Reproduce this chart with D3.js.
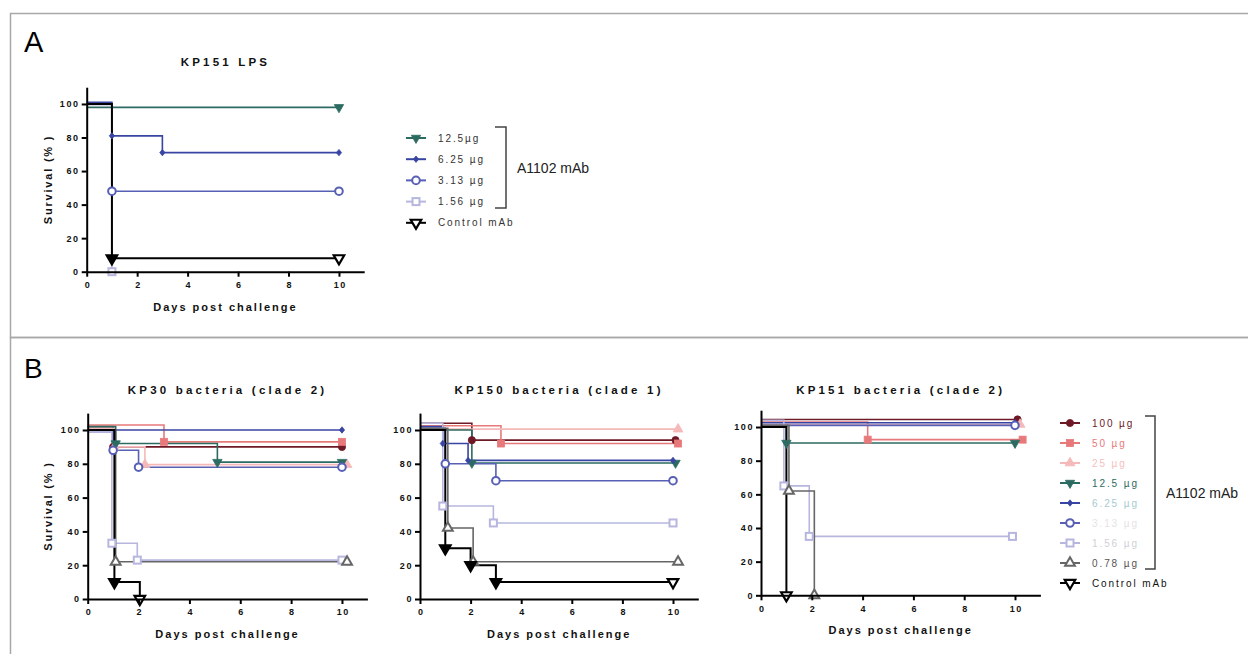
<!DOCTYPE html>
<html><head><meta charset="utf-8">
<script src="https://cdn.jsdelivr.net/npm/d3@7"></script>
<style>
html,body{margin:0;padding:0;background:#fff;}
svg{display:block;font-family:"Liberation Sans",Arial,sans-serif;}
</style></head>
<body><svg id="c" width="1248" height="654"></svg>
<script>
// ---------- DATA ----------
const xTicks = [0, 2, 4, 6, 8, 10];
const yTicks = [0, 20, 40, 60, 80, 100];
const titles = ["KP151 LPS", "KP30 bacteria (clade 2)", "KP150 bacteria (clade 1)", "KP151 bacteria (clade 2)"];
const legendA = ["12.5\u00b5g", "6.25 \u00b5g", "3.13 \u00b5g", "1.56 \u00b5g", "Control mAb"];
const legendB = ["100 \u00b5g", "50 \u00b5g", "25 \u00b5g", "12.5 \u00b5g", "6.25 \u00b5g", "3.13 \u00b5g", "1.56 \u00b5g", "0.78 \u00b5g", "Control mAb"];
const keysA = ["d125", "d625", "d313", "d156", "ctrl"];
const keysB = ["d100", "d50", "d25", "d125", "d625", "d313", "d156", "d078", "ctrl"];

// Panel A : KP151 LPS  [day, survival %]
const A_d125 = [[0, 98], [10, 98]];
const A_d625 = [[0, 101], [1, 81], [3, 71], [10, 71]];
const A_d313 = [[0, 100], [1, 48], [10, 48]];
const A_d156 = [[0, 99.5], [1, 0]];
const A_ctrl = [[0, 100], [1, 8], [10, 8]];

// Panel B1 : KP30 bacteria
const B1_d100 = [[0, 102], [1, 90], [10, 90]];
const B1_d50 = [[0, 103], [3, 93], [10, 93]];
const B1_d25 = [[0, 101], [1.05, 90], [2.25, 79.5], [10.2, 79.5]];
const B1_d125 = [[0, 102], [1.1, 92], [5.1, 81], [10, 81]];
const B1_d625 = [[0, 100], [10, 100]];
const B1_d313 = [[0, 99], [1, 88], [2, 78], [10, 78]];
const B1_d156 = [[0, 99], [0.95, 33], [1.95, 23], [10, 23]];
const B1_d078 = [[0, 100], [1.1, 22], [10.2, 22]];
const B1_ctrl = [[0, 100], [1.05, 10], [2.05, 0]];

// Panel B2 : KP150 bacteria
const B2_d100 = [[0, 104], [2.05, 94], [10.1, 94]];
const B2_d50 = [[0, 102.5], [3.2, 92], [10.2, 92]];
const B2_d25 = [[0, 100.5], [10.2, 100.5]];
const B2_d125 = [[0, 100], [2.05, 80.5], [10.1, 80.5]];
const B2_d625 = [[0, 102], [0.9, 92], [1.9, 82], [10, 82]];
const B2_d313 = [[0, 101], [1, 80], [3, 70], [10, 70]];
const B2_d156 = [[0, 104], [0.9, 55], [2.9, 45], [10, 45]];
const B2_d078 = [[0, 101], [1.1, 42], [2.1, 22], [10.2, 22]];
const B2_ctrl = [[0, 100], [1, 30], [2, 20], [3, 10], [10, 10]];

// Panel B3 : KP151 bacteria
const B3_d100 = [[0, 104.5], [10.1, 104.5]];
const B3_d50 = [[0, 103], [4.2, 92.5], [10.3, 92.5]];
const B3_d25 = [[0, 101.5], [10.2, 101.5]];
const B3_d125 = [[0, 100.5], [1, 90.5], [10, 90.5]];
const B3_d625 = [[0, 102.5], [10, 102.5]];
const B3_d313 = [[0, 101], [10, 101]];
const B3_d156 = [[0, 104], [0.9, 65], [1.9, 35], [9.9, 35]];
const B3_d078 = [[0, 101], [1.1, 62], [2.1, 0]];
const B3_ctrl = [[0, 100], [1, 0]];

// ---------- STYLES ----------
const st = {
  d100: {c: "#6e1a26", sym: "circle", fill: true},
  d50:  {c: "#e8797b", sym: "square", fill: true},
  d25:  {c: "#f5b9b9", sym: "tri", fill: true},
  d125: {c: "#2c6b61", sym: "itri", fill: true},
  d625: {c: "#3845a3", sym: "diamond", fill: true},
  d313: {c: "#5760b5", sym: "circle", fill: false},
  d156: {c: "#b7b6df", sym: "square", fill: false},
  d078: {c: "#666666", sym: "tri", fill: false},
  ctrl: {c: "#000000", sym: "ctrl", fill: false}
};
const legBColors = ["#6e1a26", "#e8797b", "#f5c0c0", "#2c6b61", "#a6cbd0", "#e4e4e4", "#d0d0d8", "#555555", "#111111"];

const svg = d3.select("#c");

// panel frames
svg.append("rect").attr("x", 10.5).attr("y", 13.5).attr("width", 1260).attr("height", 324)
  .attr("fill", "none").attr("stroke", "#a8a8a8").attr("stroke-width", 1.5);
svg.append("rect").attr("x", 10.5).attr("y", 337.5).attr("width", 1260).attr("height", 340)
  .attr("fill", "none").attr("stroke", "#a8a8a8").attr("stroke-width", 1.5);

svg.append("text").attr("x", 24).attr("y", 52).attr("font-size", 29).text("A");
svg.append("text").attr("x", 24).attr("y", 378).attr("font-size", 28).text("B");

function marker(g, sym, cx, cy, color, fill, filledCtrl) {
  let p;
  if (sym === "circle") {
    p = g.append("circle").attr("cx", cx).attr("cy", cy).attr("r", fill ? 3.6 : 3.8);
  } else if (sym === "square") {
    const s = fill ? 7 : 7;
    p = g.append("rect").attr("x", cx - s / 2).attr("y", cy - s / 2).attr("width", s).attr("height", s);
  } else if (sym === "tri") {
    p = g.append("path").attr("d", d3.symbol(d3.symbolTriangle, 42)()).attr("transform", `translate(${cx},${cy})`);
  } else if (sym === "itri") {
    p = g.append("path").attr("d", d3.symbol(d3.symbolTriangle, 38)()).attr("transform", `translate(${cx},${cy}) rotate(180)`);
  } else if (sym === "diamond") {
    p = g.append("path").attr("d", "M0,-3.2L2.6,0L0,3.2L-2.6,0Z").attr("transform", `translate(${cx},${cy})`);
  } else if (sym === "ctrl") {
    p = g.append("path").attr("d", d3.symbol(d3.symbolTriangle, 48)()).attr("transform", `translate(${cx},${cy}) rotate(180)`);
    p.attr("fill", filledCtrl ? "#000" : "#fff").attr("stroke", "#000").attr("stroke-width", 2.2).attr("stroke-linejoin", "miter");
    return;
  }
  if (fill) p.attr("fill", color).attr("stroke", color).attr("stroke-width", 0.8);
  else p.attr("fill", "#fff").attr("stroke", color).attr("stroke-width", 2);
}

function chart(cfg) {
  const g = svg.append("g");
  const x = d3.scaleLinear().domain([0, 11]).range([cfg.x0, cfg.x1]);
  const y = d3.scaleLinear().domain([0, 110]).range([cfg.y0, cfg.y1]);
  // series
  const line = d3.line().x(d => x(d[0])).y(d => y(d[1])).curve(d3.curveStepAfter);
  cfg.keys.forEach((k, i) => {
    const data = cfg.series[i];
    const s = st[k];
    g.append("path").attr("d", line(data)).attr("fill", "none").attr("stroke", s.c)
      .attr("stroke-width", k === "ctrl" ? 2 : 1.6);
  });
  cfg.keys.forEach((k, i) => {
    const data = cfg.series[i];
    const s = st[k];
    data.slice(1).forEach((d, j) => {
      marker(g, s.sym, x(d[0]), y(d[1]), s.c, s.fill, j < data.length - 2);
    });
  });
  // axes
  const ax = g.append("g").attr("transform", `translate(0,${cfg.y0})`)
    .call(d3.axisBottom(x).tickValues(xTicks).tickSize(5).tickSizeOuter(0).tickPadding(5).tickFormat(d3.format("d")));
  const ay = g.append("g").attr("transform", `translate(${cfg.x0},0)`)
    .call(d3.axisLeft(y).tickValues(yTicks).tickSize(5).tickSizeOuter(0).tickPadding(2).tickFormat(d3.format("d")));
  [ax, ay].forEach(a => {
    a.selectAll("path,line").attr("stroke", "#000").attr("stroke-width", 2);
    a.selectAll("text").attr("font-size", 9).attr("font-weight", "bold").attr("fill", "#111")
      .attr("letter-spacing", 1.6).attr("font-family", "Liberation Sans, Arial, sans-serif");
  });
  ax.selectAll("text").attr("dx", "0.8");
  const cx = (cfg.x0 + cfg.x1) / 2;
  g.append("text").attr("x", cx).attr("y", cfg.y0 + 39).attr("text-anchor", "middle")
    .attr("font-size", 11).attr("font-weight", "bold").attr("letter-spacing", 2).attr("fill", "#111").text("Days post challenge");
  g.append("text").attr("x", cx).attr("y", cfg.titleY).attr("text-anchor", "middle")
    .attr("font-size", 11.5).attr("font-weight", "bold").attr("letter-spacing", 3.2).attr("fill", "#111").text(cfg.title);
  if (cfg.ylab) {
    const cy = (cfg.y0 + cfg.y1) / 2;
    g.append("text").attr("transform", `translate(52,${cy}) rotate(-90)`).attr("text-anchor", "middle")
      .attr("font-size", 11).attr("font-weight", "bold").attr("letter-spacing", 1.8).attr("fill", "#111").text("Survival (% )");
  }
}

chart({x0: 86.7, x1: 364.2, y0: 271.7, y1: 87.2, keys: keysA,
  series: [A_d125, A_d625, A_d313, A_d156, A_ctrl], title: titles[0], titleY: 66, ylab: true});
chart({x0: 87.7, x1: 367.4, y0: 599, y1: 413.1, keys: keysB,
  series: [B1_d100, B1_d50, B1_d25, B1_d125, B1_d625, B1_d313, B1_d156, B1_d078, B1_ctrl], title: titles[1], titleY: 394, ylab: true});
chart({x0: 420, x1: 698.3, y0: 599, y1: 413.1, keys: keysB,
  series: [B2_d100, B2_d50, B2_d25, B2_d125, B2_d625, B2_d313, B2_d156, B2_d078, B2_ctrl], title: titles[2], titleY: 394, ylab: false});
chart({x0: 761, x1: 1040.4, y0: 595.3, y1: 410.2, keys: keysB,
  series: [B3_d100, B3_d50, B3_d25, B3_d125, B3_d625, B3_d313, B3_d156, B3_d078, B3_ctrl], title: titles[3], titleY: 394, ylab: false});

// legends
function legend(cfg) {
  const g = svg.append("g");
  cfg.labels.forEach((lab, i) => {
    const yy = cfg.y + i * cfg.dy;
    const s = st[cfg.keys[i]];
    g.append("line").attr("x1", cfg.mx - 10).attr("x2", cfg.mx + 10).attr("y1", yy).attr("y2", yy)
      .attr("stroke", s.c).attr("stroke-width", 2);
    marker(g, s.sym, cfg.mx, yy, s.c, s.fill, false);
    g.append("text").attr("x", cfg.tx).attr("y", yy + 3.6).attr("font-size", 10).attr("letter-spacing", 1.9)
      .attr("fill", cfg.colors ? cfg.colors[i] : "#333").text(lab);
  });
  const b = cfg.bracket;
  g.append("path").attr("d", `M${b.x0},${b.top}H${b.x}V${b.bot}H${b.x0}`).attr("fill", "none")
    .attr("stroke", "#444").attr("stroke-width", 1.5);
  g.append("text").attr("x", b.x + 11).attr("y", (b.top + b.bot) / 2 + 5).attr("font-size", 14).attr("fill", "#222").text("A1102 mAb");
}
legend({labels: legendA, keys: keysA, y: 138, dy: 21.2, mx: 416, tx: 438,
  bracket: {x: 506, x0: 495, top: 127, bot: 208}});
legend({labels: legendB, keys: keysB, y: 423, dy: 20, mx: 1070, tx: 1092, colors: legBColors,
  bracket: {x: 1155, x0: 1145, top: 416, bot: 569}});
</script></body></html>
